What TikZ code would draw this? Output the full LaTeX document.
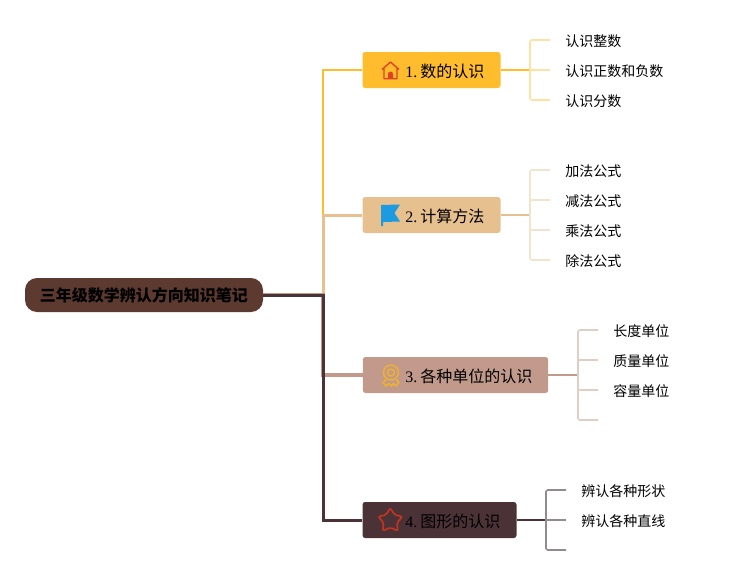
\documentclass[tikz,border=0pt]{standalone}
\usepackage{fontspec}
\setmainfont{Liberation Serif}
\newfontfamily\cjk{Noto Sans CJK SC}
\definecolor{mmroot}{RGB}{93,58,47}
\definecolor{mmyellow}{RGB}{255,189,46}
\definecolor{mmsand}{RGB}{230,192,143}
\definecolor{mmrose}{RGB}{193,154,139}
\definecolor{mmdark}{RGB}{74,50,54}
\definecolor{mmgrey}{RGB}{145,140,140}
\definecolor{iconred}{RGB}{226,62,40}
\definecolor{iconblue}{RGB}{28,155,224}
\definecolor{icongold}{RGB}{240,176,48}
\usetikzlibrary{shapes.geometric}

\begin{document}
\begin{tikzpicture}[
  x=0.75pt,y=-0.75pt,
  every node/.style={font=\fontsize{10.5pt}{12pt}\selectfont\cjk,text=black},
  rootbox/.style={fill=mmroot,rounded corners=9pt,minimum width=178.5pt,minimum height=25.5pt,
                  inner sep=0pt,font=\fontsize{12pt}{14pt}\selectfont\cjk\bfseries},
  mainbox/.style={rounded corners=2pt,minimum height=27pt,inner sep=0pt},
  maintext/.style={anchor=west,inner sep=0pt,font=\fontsize{12pt}{14pt}\selectfont\cjk},
  leaftext/.style={anchor=west,inner ysep=0pt,inner xsep=11.25pt,text height=9.3pt,text depth=0pt},
  branch/.style={line width=#1,line join=miter},
  twig/.style={line width=1.2pt,rounded corners=1.5pt},
]
  \useasboundingbox (0,0) rectangle (729,575);

  % Root topic
  \node[rootbox] (root) at (144,295) {三年级数学辨认方向知识笔记};
  \coordinate (trunk) at (323,295);

  % Main boxes
  \node[mainbox,fill=mmyellow,minimum width=103.5pt] (numbers) at (431.5,70) {};
  \node[mainbox,fill=mmsand,minimum width=103.5pt] (calc) at (431.5,215) {};
  \node[mainbox,fill=mmrose,minimum width=139pt] (units) at (455.5,375) {};
  \node[mainbox,fill=mmdark,minimum width=115.5pt] (shapes) at (439.5,520) {};

  \node[maintext] (numberstext) at (405,71) {{\rmfamily 1.\kern2.3pt}数的认识};
  \node[maintext] (calctext) at (405,216) {{\rmfamily 2.\kern2.3pt}计算方法};
  \node[maintext] (unitstext) at (405,376) {{\rmfamily 3.\kern2.3pt}各种单位的认识};
  \node[maintext] (shapestext) at (405,521) {{\rmfamily 4.\kern2.3pt}图形的认识};

  % Branches from the root
  \draw[branch=1.5pt,mmyellow] (root.east) -- (trunk) |- (numbers.west);
  \draw[branch=2.25pt,mmsand] (root.east) -- (trunk) |- (calc.west);
  \draw[branch=3pt,mmrose] (root.east) -- (trunk) |- (units.west);
  \draw[branch=2.25pt,mmdark] (root.east) -- (trunk) |- (shapes.west);

  % Leaves: numbers
  \coordinate (numbersjoin) at (530,70);
  \node[leaftext] (whole) at (550,40) {认识整数};
  \node[leaftext] (signed) at (550,70) {认识正数和负数};
  \node[leaftext] (fraction) at (550,100) {认识分数};
  \draw[branch=1.5pt,mmyellow] (numbers.east) -- (numbersjoin);
  \draw[twig,mmyellow!45] (numbersjoin) |- (whole.west);
  \draw[twig,mmyellow!45] (numbersjoin) -- (signed.west);
  \draw[twig,mmyellow!45] (numbersjoin) |- (fraction.west);

  % Leaves: calculation
  \coordinate (calcjoin) at (530,215);
  \node[leaftext] (add) at (550,170) {加法公式};
  \node[leaftext] (sub) at (550,200) {减法公式};
  \node[leaftext] (mul) at (550,230) {乘法公式};
  \node[leaftext] (div) at (550,260) {除法公式};
  \draw[branch=1.5pt,mmsand] (calc.east) -- (calcjoin);
  \draw[twig,mmsand!45] (calcjoin) |- (add.west);
  \draw[twig,mmsand!45] (calcjoin) |- (sub.west);
  \draw[twig,mmsand!45] (calcjoin) |- (mul.west);
  \draw[twig,mmsand!45] (calcjoin) |- (div.west);

  % Leaves: units
  \coordinate (unitsjoin) at (578,375);
  \node[leaftext] (length) at (598,330) {长度单位};
  \node[leaftext] (mass) at (598,360) {质量单位};
  \node[leaftext] (volume) at (598,390) {容量单位};
  \coordinate (unitsend) at (598,420);
  \draw[branch=1.5pt,mmrose] (units.east) -- (unitsjoin);
  \draw[twig,mmrose!50] (unitsjoin) |- (length.west);
  \draw[twig,mmrose!50] (unitsjoin) |- (mass.west);
  \draw[twig,mmrose!50] (unitsjoin) |- (volume.west);
  \draw[twig,mmrose!50] (unitsjoin) |- (unitsend);

  % Leaves: shapes
  \coordinate (shapesjoin) at (546,520);
  \node[leaftext] (forms) at (566,490) {辨认各种形状};
  \node[leaftext] (lines) at (566,520) {辨认各种直线};
  \coordinate (shapesend) at (566,550);
  \draw[branch=1.5pt,mmdark] (shapes.east) -- (shapesjoin);
  \draw[twig,mmgrey] (shapesjoin) |- (forms.west);
  \draw[twig,mmgrey] (shapesjoin) -- (lines.west);
  \draw[twig,mmgrey] (shapesjoin) |- (shapesend);

  % Icon: house
  \draw[iconred,line width=1pt,line join=round]
    (382,69.5) -- (390.5,62) -- (399,69.5)
    (384,67.5) -- (384,78.8) -- (397,78.8) -- (397,67.5);
  \fill[iconred] (388,78.8) -- (388,74) arc[start angle=180,end angle=360,radius=2.5] -- (393,78.8) -- cycle;

  % Icon: flag
  \fill[iconblue] (381,205) -- (400,204.5) -- (394.5,213) -- (400,221.5) -- (383,222) -- (383,226) -- (381,226) -- cycle;

  % Icon: medal
  \draw[icongold,line width=1.1pt] (391,372.5) circle[radius=7.5];
  \draw[icongold,line width=1.1pt] (391,372.5) circle[radius=3.5];
  \draw[icongold,line width=1.1pt,line join=round]
    (386,379.5) -- (383,382.5) -- (386,386) -- (388.5,383.5) -- (391,386) -- (393.5,383.5) -- (396,386) -- (399,382.5) -- (396,379.5);

  % Icon: star
  \node[star,star points=5,star point ratio=1.8,minimum size=19pt,inner sep=0pt,
        draw=iconred!85!black,line width=1.3pt,rounded corners=1.5pt] (staricon) at (390.3,520.5) {};
\end{tikzpicture}
\end{document}
